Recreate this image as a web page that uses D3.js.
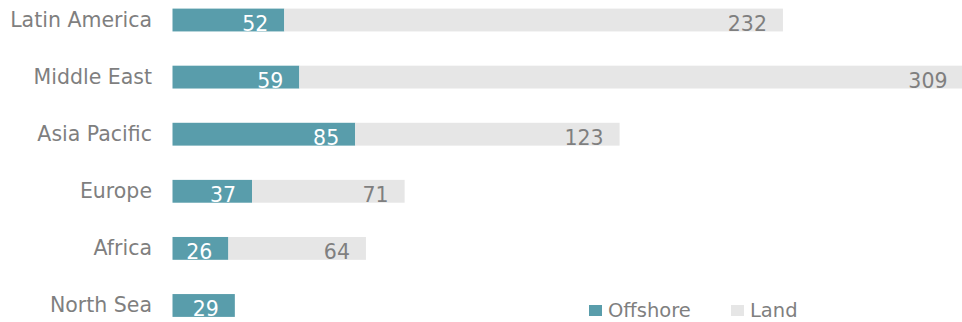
<!DOCTYPE html>
<html>
<head>
<meta charset="utf-8">
<script src="https://cdn.jsdelivr.net/npm/d3@7"></script>
<style>
  body { margin: 0; background: #fff; }
  text { font-family: "DejaVu Sans", sans-serif; }
</style>
</head>
<body>
<div id="chart"></div>
<script>
// data
const regions = ["Latin America", "Middle East", "Asia Pacific", "Europe", "Africa", "North Sea"];
const offshore = [52, 59, 85, 37, 26, 29];
const land = [232, 309, 123, 71, 64, 0];
const seriesNames = ["Offshore", "Land"];

const width = 962, height = 322;
const colors = ["#599dab", "#e6e6e6"];
const textGray = "#7f7f7f";

const svg = d3.select("#chart")
  .append("svg")
  .attr("width", width)
  .attr("height", height);

const rows = regions.map((r, i) => ({ region: r, Offshore: offshore[i], Land: land[i] }));
const stacked = d3.stack().keys(seriesNames)(rows);

const xScale = d3.scaleLinear()
  .domain([0, 368])
  .range([172.5, 963.5]);

const yScale = d3.scaleBand()
  .domain(regions)
  .range([8.6, 316.9])
  .paddingInner(0.6)
  .paddingOuter(0);

svg.append("defs").append("clipPath")
  .attr("id", "plotclip")
  .append("rect")
  .attr("x", 0).attr("y", 0)
  .attr("width", width).attr("height", 317);

// category labels
svg.append("g")
  .selectAll("text")
  .data(regions)
  .enter()
  .append("text")
    .attr("x", 152)
    .attr("y", d => yScale(d) + yScale.bandwidth() / 2 + 7)
    .attr("text-anchor", "end")
    .attr("font-size", "20.5px")
    .attr("fill", textGray)
    .text(d => d);

const layers = svg.append("g").attr("clip-path", "url(#plotclip)")
  .selectAll("g.layer")
  .data(stacked)
  .enter()
  .append("g")
    .attr("class", "layer");

layers.selectAll("rect")
  .data((s, si) => s.map(d => ({ d: d, si: si })))
  .enter()
  .filter(o => o.d[1] > o.d[0])
  .append("rect")
    .attr("x", o => xScale(o.d[0]))
    .attr("y", o => yScale(o.d.data.region))
    .attr("width", o => xScale(o.d[1]) - xScale(o.d[0]))
    .attr("height", yScale.bandwidth())
    .attr("fill", o => colors[o.si]);

layers.selectAll("text")
  .data((s, si) => s.map(d => ({ d: d, si: si })))
  .enter()
  .filter(o => o.d[1] > o.d[0])
  .append("text")
    .attr("x", o => xScale(o.d[1]) - 16)
    .attr("y", o => yScale(o.d.data.region) + yScale.bandwidth() / 2 + 10.5)
    .attr("text-anchor", "end")
    .attr("font-size", "20.5px")
    .attr("fill", o => o.si === 0 ? "#ffffff" : textGray)
    .text(o => o.d[1] - o.d[0]);

// legend
const legendX = [589, 731];
const legend = svg.append("g")
  .selectAll("g")
  .data(seriesNames)
  .enter()
  .append("g")
    .attr("transform", (d, i) => `translate(${legendX[i]}, 305)`);

legend.append("rect")
  .attr("width", 13)
  .attr("height", 11)
  .attr("fill", (d, i) => colors[i]);

legend.append("text")
  .attr("x", 19)
  .attr("y", 12)
  .attr("font-size", "19.5px")
  .attr("fill", textGray)
  .text(d => d);
</script>
</body>
</html>
